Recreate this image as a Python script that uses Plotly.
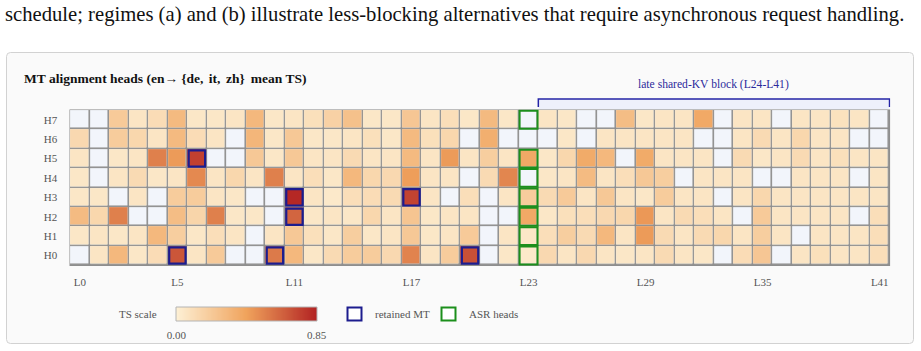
import plotly.graph_objects as go
import numpy as np

# ---------------- data ----------------
N = None
layer_labels = [f"L{i}" for i in range(42)]
head_labels = [f"H{i}" for i in range(8)]
x_tick_layers = [0, 5, 11, 17, 23, 29, 35, 41]

# mean TS per head (rows H0..H7), layers L0..L41; None = empty cell
ts_H0 = [N,0.06,0.31,0.05,0.11,0.68,0.06,0.21,N,N,0.56,0.31,0.05,0.12,0.20,0.20,0.13,0.53,0.06,0.20,0.70,N,0.05,0.04,0.13,0.06,0.13,0.06,0.05,0.06,0.12,0.06,0.05,N,0.11,0.23,N,0.06,0.09,0.06,0.06,0.10]
ts_H1 = [0.05,0.06,0.05,0.06,0.31,0.19,0.05,0.10,0.06,N,0.06,0.22,0.09,0.05,0.19,0.05,0.06,0.22,0.05,0.06,0.21,N,0.06,0.05,0.10,0.19,0.12,0.31,0.06,0.45,0.12,0.06,0.12,0.14,0.06,0.19,0.06,N,0.06,0.06,0.06,0.10]
ts_H2 = [0.29,0.14,0.54,N,N,0.28,0.15,0.54,0.05,0.05,N,0.63,0.05,0.06,0.05,0.14,0.06,0.24,0.05,0.06,0.06,N,N,0.39,0.05,0.09,0.10,0.13,0.14,0.46,0.06,0.12,0.10,0.06,N,0.21,0.06,0.06,0.06,0.06,N,0.10]
ts_H3 = [0.05,0.05,N,0.06,N,0.20,0.20,0.06,0.05,N,N,0.83,0.06,0.04,0.10,0.11,0.12,0.74,0.06,N,0.10,N,0.06,0.20,0.12,0.21,0.06,0.22,0.06,0.05,0.20,0.06,0.06,N,0.06,0.14,0.06,0.06,0.06,0.06,0.06,0.06]
ts_H4 = [0.05,N,0.06,0.12,0.05,0.06,0.51,0.06,0.14,0.06,0.54,0.06,0.10,0.05,0.31,0.14,0.13,0.44,0.06,0.06,N,0.12,0.52,N,0.05,0.06,0.29,0.06,0.10,0.22,0.19,N,0.06,0.06,0.06,N,N,0.06,0.06,0.06,N,0.06]
ts_H5 = [0.06,N,0.05,0.06,0.54,0.45,0.75,N,N,0.22,0.05,0.22,0.06,0.06,0.12,0.06,0.06,0.30,0.06,0.45,0.06,0.19,0.06,0.39,0.05,0.14,0.38,0.31,N,0.38,0.06,0.06,0.06,N,0.12,0.05,0.06,0.12,0.06,0.09,0.06,0.06]
ts_H6 = [0.13,N,0.20,0.14,0.06,0.30,0.11,0.06,N,0.32,0.05,0.22,0.05,0.05,0.06,0.09,0.05,0.30,0.09,0.14,N,0.36,N,N,N,0.05,N,0.06,0.06,0.06,0.06,0.06,N,N,0.06,0.12,0.06,0.14,0.06,0.06,N,N]
ts_H7 = [N,N,0.21,0.06,0.11,0.30,0.05,0.05,0.06,0.31,0.05,0.06,0.09,0.17,0.26,0.05,0.05,0.23,0.06,0.10,0.05,0.30,0.05,N,0.06,0.05,N,N,0.28,0.05,0.06,0.06,0.39,N,0.06,0.06,N,0.06,0.06,0.08,0.06,N]

retained_mt = [(6, 5), (11, 3), (11, 2), (17, 3), (5, 0), (10, 0), (20, 0)]  # (layer, head)
asr_layer = 23
asr_heads = [0, 1, 2, 3, 4, 5, 7]
kv_block = (24, 41)
ts_min, ts_max = 0.0, 0.85

rows = [ts_H0, ts_H1, ts_H2, ts_H3, ts_H4, ts_H5, ts_H6, ts_H7]
for r in rows:
    assert len(r) == 42
z = np.array([[np.nan if v is None else v for v in r] for r in rows], dtype=float)
xs = list(range(42))
ys = list(range(8))

# ---------------- geometry helpers (figure fractions) ----------------
W, H = 921, 351
def px(x):
    return x / W
def py(y):
    return 1 - y / H

GX0, GX1, GY0, GY1 = 69.3, 890.3, 109.3, 266.0   # grid box in pixels
CB = (176, 317, 307, 321)                          # legend gradient box

SERIF = "Liberation Serif, Times New Roman, serif"
GRAY_TXT = "#555555"
NAVY = "#1c1c8e"
GREEN = "#1c8f1c"

colorscale = [[0.0, "#fdf0d5"], [0.5, "#f0a35c"], [1.0, "#b22222"]]

fig = go.Figure()
# empty-cell layer
fig.add_trace(go.Heatmap(
    x=xs, y=ys, z=np.zeros_like(z), zmin=0, zmax=1,
    colorscale=[[0, "#f2f5fb"], [1, "#f2f5fb"]], showscale=False,
    xgap=1.6, ygap=1.6, hoverinfo="skip"))
# values layer
fig.add_trace(go.Heatmap(
    x=xs, y=ys, z=z, zmin=ts_min, zmax=ts_max, colorscale=colorscale,
    xgap=1.6, ygap=1.6, hoverongaps=False, showscale=False))
# legend gradient (TS scale)
grad = np.linspace(ts_min, ts_max, 256)
step = grad[1] - grad[0]
fig.add_trace(go.Heatmap(
    x=grad, y=[0], z=[grad], zmin=ts_min, zmax=ts_max, colorscale=colorscale,
    showscale=False, xaxis="x2", yaxis="y2", hoverinfo="skip"))

shapes = []
# rounded panel
x0, x1, y0, y1, rr = 6.5, 913.5, 52.5, 343.5, 4
path = (f"M {px(x0+rr)},{py(y0)} L {px(x1-rr)},{py(y0)} Q {px(x1)},{py(y0)} {px(x1)},{py(y0+rr)} "
        f"L {px(x1)},{py(y1-rr)} Q {px(x1)},{py(y1)} {px(x1-rr)},{py(y1)} "
        f"L {px(x0+rr)},{py(y1)} Q {px(x0)},{py(y1)} {px(x0)},{py(y1-rr)} "
        f"L {px(x0)},{py(y0+rr)} Q {px(x0)},{py(y0)} {px(x0+rr)},{py(y0)} Z")
shapes.append(dict(type="path", xref="paper", yref="paper", path=path, layer="below",
                   fillcolor="#fafafa", line=dict(color="#d2d2d2", width=1)))
# bracket background
shapes.append(dict(type="rect", xref="x", yref="paper", x0=kv_block[0] - 0.5, x1=kv_block[1] + 0.5,
                   y0=py(GY0), y1=py(99), layer="below", fillcolor="#eef0fb", line=dict(width=0)))
# grid border colour (behind cells)
pad = 0.04
shapes.append(dict(type="rect", xref="x", yref="y", x0=-0.5 - pad, x1=41.5 + pad, y0=-0.5 - pad, y1=7.5 + pad,
                   layer="below", fillcolor="#8e8e8e", line=dict(width=0)))
# bracket line
bx0, bx1 = kv_block[0] - 0.5, kv_block[1] + 0.5
shapes.append(dict(type="path", xref="x", yref="paper",
                   path=f"M {bx0},{py(107)} L {bx0},{py(99)} L {bx1},{py(99)} L {bx1},{py(107)}",
                   line=dict(color="#2424a6", width=1.5)))
# highlights
ins = 0.42
for (l, h) in retained_mt:
    shapes.append(dict(type="rect", xref="x", yref="y", x0=l - ins, x1=l + ins, y0=h - ins, y1=h + ins,
                       line=dict(color=NAVY, width=2.2)))
for h in asr_heads:
    shapes.append(dict(type="rect", xref="x", yref="y", x0=asr_layer - 0.46, x1=asr_layer + 0.46,
                       y0=h - 0.46, y1=h + 0.46, line=dict(color=GREEN, width=2)))
# gradient outline
shapes.append(dict(type="rect", xref="x2 domain", yref="y2 domain", x0=0, x1=1, y0=0, y1=1,
                   line=dict(color="#b4b4b4", width=1)))
# legend squares
shapes.append(dict(type="rect", xref="paper", yref="paper", x0=px(347.5), x1=px(361.5), y0=py(320.5), y1=py(307.5),
                   line=dict(color=NAVY, width=2), fillcolor="white"))
shapes.append(dict(type="rect", xref="paper", yref="paper", x0=px(441.5), x1=px(455.5), y0=py(320.5), y1=py(307.5),
                   line=dict(color=GREEN, width=2), fillcolor="white"))

annotations = [
    dict(text="schedule; regimes (a) and (b) illustrate less-blocking alternatives that require asynchronous request handling.",
         xref="paper", yref="paper", x=px(3), y=py(15), xanchor="left", yanchor="middle", showarrow=False,
         font=dict(family=SERIF, size=20.65, color="#111111")),
    dict(text="<b>MT alignment heads (en\u2192 {de,\u2009\u2009it,\u2009\u2009zh}\u2009 mean TS)</b>",
         xref="paper", yref="paper", x=px(22), y=py(79), xanchor="left", yanchor="middle", showarrow=False,
         font=dict(family=SERIF, size=13.5, color="#111111")),
    dict(text=f"late shared-KV block (L{kv_block[0]}-L{kv_block[1]})",
         xref="x", yref="paper", x=(kv_block[0] + kv_block[1]) / 2, y=py(84), xanchor="center", yanchor="middle",
         showarrow=False, font=dict(family=SERIF, size=11.6, color="#2a2a9c")),
    dict(text="TS scale", xref="paper", yref="paper", x=px(159), y=py(314), xanchor="right", yanchor="middle",
         showarrow=False, font=dict(family=SERIF, size=11, color=GRAY_TXT)),
    dict(text="retained MT", xref="paper", yref="paper", x=px(373), y=py(314), xanchor="left", yanchor="middle",
         showarrow=False, font=dict(family=SERIF, size=11, color=GRAY_TXT)),
    dict(text="ASR heads", xref="paper", yref="paper", x=px(467), y=py(314), xanchor="left", yanchor="middle",
         showarrow=False, font=dict(family=SERIF, size=11, color=GRAY_TXT)),
]

tickfont = dict(family=SERIF, size=11, color=GRAY_TXT)
fig.update_layout(
    width=W, height=H, autosize=False,
    margin=dict(l=0, r=0, t=0, b=0, pad=0, autoexpand=False),
    paper_bgcolor="white", plot_bgcolor="rgba(0,0,0,0)",
    shapes=shapes, annotations=annotations, showlegend=False,
    xaxis=dict(domain=[px(GX0), px(GX1)], anchor="y", range=[-0.5 - pad, 41.5 + pad], tickvals=x_tick_layers,
               ticktext=[layer_labels[i] for i in x_tick_layers], showgrid=False, zeroline=False,
               showline=False, ticks="", ticklabelstandoff=8, tickfont=tickfont, fixedrange=True),
    yaxis=dict(domain=[py(GY1), py(GY0)], anchor="x", range=[-0.5 - pad, 7.5 + pad], tickvals=ys,
               ticktext=head_labels, showgrid=False, zeroline=False, showline=False, ticks="",
               ticklabelstandoff=11, tickfont=tickfont, fixedrange=True),
    xaxis2=dict(domain=[px(CB[0]), px(CB[1])], anchor="y2", range=[ts_min - step / 2, ts_max + step / 2],
                tickvals=[ts_min, ts_max], ticktext=[f"{ts_min:.2f}", f"{ts_max:.2f}"], showgrid=False,
                zeroline=False, showline=False, ticks="", ticklabelstandoff=6, tickfont=tickfont, fixedrange=True),
    yaxis2=dict(domain=[py(CB[3]), py(CB[2])], anchor="x2", range=[-0.5, 0.5], showticklabels=False,
                showgrid=False, zeroline=False, showline=False, ticks="", fixedrange=True),
)

fig.write_html("out.html")
